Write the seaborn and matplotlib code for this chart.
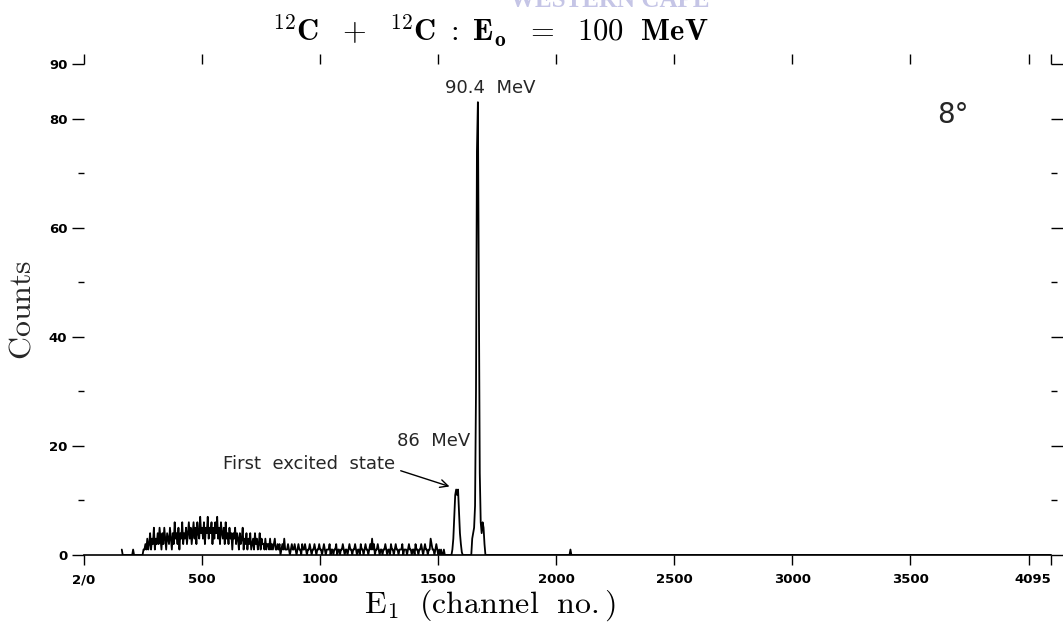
import numpy as np
import pandas as pd
import matplotlib
matplotlib.use("Agg")
import matplotlib.pyplot as plt
import seaborn as sns

# ---- spectrum data -------------------------------------------------------
# continuum below the elastic peaks: one reading every 4 channels from ch 160
# (each row of 25 readings covers 100 channels)
cont_start, cont_step = 160, 4
cont_counts = [
    1, 0, 0, 0, 0, 0, 0, 0, 0, 0, 0, 0, 1, 0, 0, 0, 0, 0, 0, 0, 0, 0, 0, 1, 1,
    2, 1, 3, 1, 2, 4, 1, 3, 2, 5, 1, 3, 2, 4, 2, 5, 3, 1, 4, 2, 5, 3, 1, 4, 3,
    2, 5, 3, 1, 4, 2, 6, 3, 4, 2, 5, 1, 4, 3, 6, 2, 4, 3, 5, 2, 4, 6, 3, 5, 2,
    4, 6, 3, 5, 2, 6, 4, 3, 7, 4, 5, 3, 6, 2, 5, 4, 7, 3, 5, 4, 6, 2, 5, 3, 6,
    4, 7, 3, 5, 2, 6, 4, 3, 5, 2, 6, 3, 4, 2, 5, 3, 4, 1, 4, 3, 5, 2, 4, 3, 1,
    4, 2, 3, 5, 1, 3, 2, 4, 1, 3, 2, 4, 1, 2, 3, 1, 4, 2, 3, 1, 2, 4, 1, 3, 2,
    2, 1, 3, 1, 2, 2, 1, 3, 1, 2, 1, 2, 3, 1, 1, 2, 1, 2, 0, 1, 2, 1, 3, 1, 1,
    1, 2, 1, 0, 1, 2, 1, 1, 2, 1, 0, 1, 2, 1, 1, 0, 2, 1, 1, 2, 1, 0, 1, 1, 2,
    1, 0, 1, 1, 2, 1, 0, 1, 1, 2, 1, 1, 0, 1, 2, 1, 0, 1, 1, 1, 2, 0, 1, 1, 0,
    1, 1, 2, 0, 1, 1, 0, 1, 1, 2, 1, 0, 1, 1, 0, 1, 2, 1, 1, 0, 1, 1, 2, 1, 0,
    1, 1, 0, 2, 1, 1, 0, 1, 2, 1, 1, 0, 1, 2, 1, 3, 1, 2, 0, 1, 1, 2, 1, 0, 1,
    1, 0, 1, 1, 2, 1, 0, 1, 1, 0, 2, 1, 1, 0, 1, 2, 1, 1, 0, 1, 1, 1, 2, 0, 1,
    1, 1, 0, 1, 2, 1, 1, 0, 1, 1, 0, 2, 1, 1, 0, 1, 1, 2, 1, 0, 1, 2, 1, 1, 0,
    1, 1, 3, 2, 1, 1, 0, 1, 2, 1, 0, 1, 0, 1, 0, 0, 1, 0, 0, 0, 0, 0, 0, 0, 0,
]

# first excited state (86 MeV) and ground state (90.4 MeV) peaks, then the
# empty upper part of the spectrum
peak_channels = [1560, 1564, 1568, 1572, 1576, 1580, 1584, 1588, 1592,
                 1596, 1600, 1604, 1640, 1644, 1648, 1652, 1656, 1660, 1664,
                 1668, 1672, 1676, 1680, 1684, 1688, 1692, 1696, 1700,
                 2056, 2060, 2064, 4095]
peak_counts = [1, 3, 7, 11, 12, 11, 12, 8, 4,
               2, 0.5, 0, 0, 3, 4, 5, 9, 30, 74,
               83, 50, 15, 6, 4, 6, 5, 2, 0,
               0, 1, 0, 0]

x_ticks = [0, 500, 1000, 1500, 2000, 2500, 3000, 3500, 4000, 4095]
x_ticklabels = ["2/0", "500", "1000", "1500", "2000", "2500", "3000", "3500", "", "4095"]
y_ticks = [0, 20, 40, 60, 80, 90]
y_ticklabels = ["0", "20", "40", "60", "80", "90"]
y_minor = [10, 30, 50, 70]

title_text = (r"$^{\mathbf{12}}\mathbf{C\ \ +\ \ }^{\mathbf{12}}"
              r"\mathbf{C\ :\ E_{o}\ \ =\ \ 100\ \ MeV}$")
xlabel_text = r"$\mathrm{E_{1}\ \ (channel\ \ no.)}$"
ylabel_text = r"$\mathrm{Counts}$"

# ---- assemble -------------------------------------------------------------
cont_channels = cont_start + cont_step * np.arange(len(cont_counts))
spec = pd.DataFrame({
    "channel": np.concatenate([cont_channels, peak_channels]),
    "counts": np.concatenate([cont_counts, peak_counts]).astype(float),
})

sns.set_theme(style="white")
plt.rcParams["font.family"] = ["DejaVu Sans"]
plt.rcParams["mathtext.fontset"] = "cm"

fig = plt.figure(figsize=(10.63, 6.22), dpi=100)
ax = fig.add_axes([84 / 1063, 1 - 555 / 622, (1051 - 84) / 1063, (555 - 64) / 622])

sns.lineplot(data=spec, x="channel", y="counts", estimator=None, sort=False,
             color="black", linewidth=1.3, ax=ax)

ax.set_xlim(0, 4095)
ax.set_ylim(0, 90)

for side in ("left", "right", "top"):
    ax.spines[side].set_visible(False)
ax.spines["bottom"].set_color("black")
ax.spines["bottom"].set_linewidth(1.2)

ax.set_xticks(x_ticks)
ax.set_xticklabels(x_ticklabels)
ax.set_yticks(y_ticks)
ax.set_yticklabels(y_ticklabels)
ax.set_yticks(y_minor, minor=True)
ax.get_xticklabels()[-1].set_ha("right")

ax.tick_params(axis="x", which="major", direction="out", length=7, width=1.0,
               color="black", top=True, bottom=True, labeltop=False, pad=6,
               labelsize=9.5, labelcolor="black")
ax.tick_params(axis="y", which="major", direction="out", length=8.5, width=1.0,
               color="black", left=True, right=True, labelright=False, pad=3.5,
               labelsize=9.5, labelcolor="black")
ax.tick_params(axis="y", which="minor", direction="out", length=4, width=1.0,
               color="black", left=True, right=True)
for lab in ax.get_xticklabels() + ax.get_yticklabels():
    lab.set_fontweight("bold")

ax.set_xlabel("")
ax.set_ylabel(ylabel_text, fontsize=23, labelpad=8)

# title and x label sit over the populated part of the spectrum
fig.text(490 / 1063, 1 - 31 / 622, title_text, ha="center", va="center",
         fontsize=22, color="black")
fig.text(490 / 1063, 1 - 605 / 622, xlabel_text, ha="center", va="center",
         fontsize=23, color="black")

# peak annotations
ax.text(1720, 85.6, "90.4  MeV", ha="center", va="center", fontsize=13)
ax.text(1635, 20.9, "86  MeV", ha="right", va="center", fontsize=13)
ax.text(1318, 16.6, "First  excited  state", ha="right", va="center", fontsize=13)
ax.annotate("", xy=(1559, 12.4), xytext=(1330, 15.6),
            arrowprops=dict(arrowstyle="->", color="black", lw=1.0,
                            mutation_scale=14))
ax.text(3681, 80.6, "8°", ha="center", va="center", fontsize=20)

# institutional watermark along the upper edge
fig.text(610 / 1063, 1 - 7 / 622, "WESTERN CAPE", ha="center", va="baseline",
         fontsize=18, fontweight="bold", family=["Liberation Serif"],
         color="#c5c5e6")

fig.savefig("out.png", dpi=100)
